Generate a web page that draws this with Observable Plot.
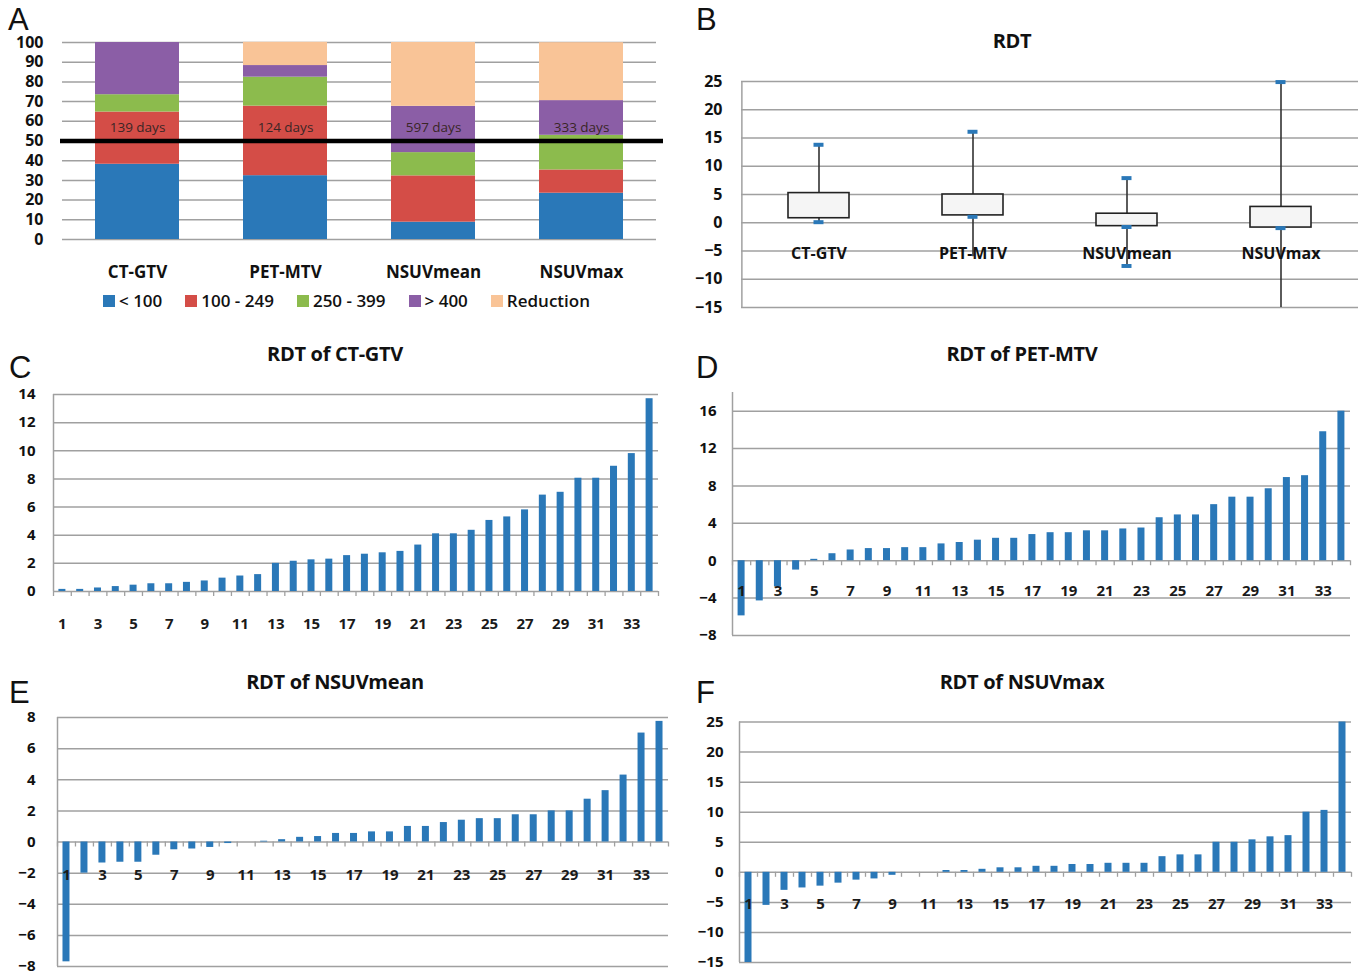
<!DOCTYPE html>
<html><head><meta charset="utf-8">
<script src="https://cdn.jsdelivr.net/npm/d3@7"></script>
<script src="https://cdn.jsdelivr.net/npm/@observablehq/plot@0.6"></script>
<style>
body{margin:0;background:#fff;}
#root{position:relative;width:1360px;height:977px;overflow:hidden;font-family:"Open Sans",sans-serif;color:#111;}
#root svg{position:absolute;overflow:visible;}
.letter{position:absolute;font-family:"Liberation Sans",Arial,sans-serif;font-size:31px;line-height:18px;height:18px;color:#111;}
.title{position:absolute;font-family:"Open Sans",sans-serif;font-weight:700;font-size:20px;line-height:1;transform:translate(-50%,-50%);white-space:nowrap;color:#111;letter-spacing:-0.3px;}
.legend{position:absolute;left:103px;top:291px;display:flex;font-size:17px;font-weight:600;line-height:20px;white-space:nowrap;}
.legend .item{display:flex;align-items:center;margin-right:23px;}
.legend .sw{width:12px;height:12px;margin-right:4px;}
</style></head><body><div id="root"></div>
<script>
// ---------- Panel A data (percent of patients) ----------
const stackCategories = ["CT-GTV", "PET-MTV", "NSUVmean", "NSUVmax"];
const rdtGroups = ["< 100", "100 - 249", "250 - 399", "> 400", "Reduction"];
const groupColors = ["#2a78b8", "#d44d47", "#8cbb4d", "#8b5ea6", "#f9c497"];
const pctLt100 = [38.2, 32.4, 8.8, 23.5];
const pct100to249 = [26.5, 35.3, 23.5, 11.8];
const pct250to399 = [8.8, 14.7, 11.8, 17.6];
const pctGt400 = [26.5, 5.9, 23.5, 17.6];
const pctReduction = [0, 11.8, 32.4, 29.4];
const medianDays = ["139 days", "124 days", "597 days", "333 days"];
const aTicks = [0, 10, 20, 30, 40, 50, 60, 70, 80, 90, 100];

// ---------- Panel B data (box plot of RDT) ----------
const boxMin = [0.1, -6.0, -7.7, -15];
const boxQ1 = [0.8, 1.3, -0.6, -0.85];
const boxQ3 = [5.25, 5.0, 1.6, 2.8];
const boxMax = [13.8, 16.1, 7.9, 24.9];
const capCategories = ["CT-GTV", "CT-GTV", "PET-MTV", "PET-MTV", "NSUVmean", "NSUVmean", "NSUVmean", "NSUVmax", "NSUVmax"];
const capValues = [13.8, 0.1, 16.1, 1.05, 7.9, -0.75, -7.65, 24.9, -0.95];
const bTicks = [-15, -10, -5, 0, 5, 10, 15, 20, 25];

// ---------- Panels C-F data (RDT per patient, sorted) ----------
const rdtCTGTV = [0.15, 0.15, 0.25, 0.35, 0.45, 0.55, 0.55, 0.65, 0.75, 0.95, 1.1, 1.2, 2.0, 2.15, 2.25, 2.3, 2.55, 2.65, 2.75, 2.85, 3.3, 4.1, 4.1, 4.35, 5.05, 5.3, 5.8, 6.85, 7.05, 8.05, 8.05, 8.9, 9.8, 13.7];
const rdtPETMTV = [-5.9, -4.3, -2.8, -1.0, 0.15, 0.75, 1.15, 1.3, 1.3, 1.4, 1.4, 1.8, 1.95, 2.2, 2.4, 2.4, 2.8, 3.0, 3.0, 3.2, 3.2, 3.4, 3.5, 4.6, 4.9, 4.9, 6.0, 6.8, 6.8, 7.7, 8.9, 9.1, 13.8, 16.0];
const rdtNSUVmean = [-7.7, -2.0, -1.35, -1.3, -1.3, -0.85, -0.5, -0.45, -0.35, -0.1, 0, 0.05, 0.15, 0.3, 0.35, 0.55, 0.55, 0.65, 0.65, 1.0, 1.0, 1.25, 1.4, 1.5, 1.5, 1.75, 1.75, 2.0, 2.0, 2.75, 3.3, 4.3, 7.0, 7.75];
const rdtNSUVmax = [-15, -5.5, -3.0, -2.6, -2.3, -1.8, -1.3, -1.1, -0.5, 0, 0, 0.3, 0.3, 0.5, 0.75, 0.75, 1.0, 1.0, 1.3, 1.3, 1.5, 1.5, 1.5, 2.6, 2.9, 2.9, 5.0, 5.0, 5.4, 5.9, 6.1, 10.0, 10.3, 25];
const cTicks = [0, 2, 4, 6, 8, 10, 12, 14];
const dTicks = [-8, -4, 0, 4, 8, 12, 16];
const eTicks = [-8, -6, -4, -2, 0, 2, 4, 6, 8];
const fTicks = [-15, -10, -5, 0, 5, 10, 15, 20, 25];
const patientLabels = d3.range(1, 35, 2);

const root = document.getElementById("root");
const GRID = "#a0a0a0";
const BAR = "#2a78b8";

function place(svg, left, top) {
  svg.style.left = left + "px";
  svg.style.top = top + "px";
  root.appendChild(svg);
}
function addText(cls, text, x, y) {
  const d = document.createElement("div");
  d.className = cls;
  d.textContent = text;
  d.style.left = x + "px";
  d.style.top = y + "px";
  root.appendChild(d);
}

// ---------- Panel A ----------
const stackData = [];
const groupArrays = [pctLt100, pct100to249, pct250to399, pctGt400, pctReduction];
stackCategories.forEach((c, j) => {
  groupArrays.forEach((arr, k) => stackData.push({cat: c, group: rdtGroups[k], value: arr[j]}));
});
const plotA = Plot.plot({
  width: 680, height: 290,
  marginLeft: 62, marginRight: 24, marginTop: 42, marginBottom: 51,
  x: {domain: stackCategories, paddingInner: 0.434, paddingOuter: 0.217},
  y: {domain: [0, 100]},
  color: {domain: rdtGroups, range: groupColors},
  style: {fontFamily: "Open Sans", fontSize: "16px", fontWeight: 700, color: "#111", background: "transparent"},
  marks: [
    Plot.ruleY(aTicks, {stroke: GRID, strokeWidth: 1.5}),
    Plot.barY(stackData, {x: "cat", y: "value", fill: "group"}),
    Plot.ruleY([50], {stroke: "#000", strokeWidth: 4.5, insetLeft: -2, insetRight: -7}),
    Plot.text(stackCategories, {x: d => d, text: medianDays, frameAnchor: "top", dy: 80, fontSize: 13.5, fontWeight: 400, fill: "#3a2626"}),
    Plot.axisY(aTicks, {tickSize: 0, tickPadding: 19, label: null}),
    Plot.axisX({tickSize: 0, tickPadding: 26, fontSize: 17, label: null})
  ]
});
place(plotA, 0, 0);

const legend = document.createElement("div");
legend.className = "legend";
rdtGroups.forEach((g, k) => {
  const it = document.createElement("div");
  it.className = "item";
  const sw = document.createElement("div");
  sw.className = "sw";
  sw.style.background = groupColors[k];
  const t = document.createElement("span");
  t.textContent = g;
  it.appendChild(sw); it.appendChild(t);
  legend.appendChild(it);
});
root.appendChild(legend);

// ---------- Panel B ----------
const boxData = stackCategories.map((c, i) => ({cat: c, min: boxMin[i], q1: boxQ1[i], q3: boxQ3[i], max: boxMax[i]}));
const capData = capCategories.map((c, i) => ({cat: c, v: capValues[i]}));
const bStep = (680 - 61 - 2) / 4;
const plotB = Plot.plot({
  width: 680, height: 260,
  marginLeft: 61, marginRight: 2, marginTop: 21, marginBottom: 13,
  x: {domain: stackCategories, paddingInner: 0.606, paddingOuter: 0.303},
  y: {domain: [-15, 25]},
  style: {fontFamily: "Open Sans", fontSize: "16px", fontWeight: 700, color: "#111", background: "transparent"},
  marks: [
    Plot.ruleY(bTicks, {stroke: GRID, strokeWidth: 1.5}),
    Plot.ruleX([stackCategories[0]], {dx: -bStep / 2, stroke: GRID, strokeWidth: 1.5}),
    Plot.ruleX(boxData, {x: "cat", y1: "min", y2: "max", stroke: "#333", strokeWidth: 1.6}),
    Plot.barY(boxData, {x: "cat", y1: "q1", y2: "q3", fill: "#f5f5f5", stroke: "#222", strokeWidth: 1.6}),
    Plot.tickY(capData, {x: "cat", y: "v", stroke: BAR, strokeWidth: 4, insetLeft: 25.5, insetRight: 25.5}),
    Plot.axisY(bTicks, {tickSize: 0, tickPadding: 19, label: null}),
    Plot.axisX({tickSize: 0, tickPadding: 0, dy: -60, fontSize: 16, label: null})
  ]
});
place(plotB, 680, 60);

// ---------- Panels C-F ----------
function rdtBars(values, yDomain, yTicks, cfg) {
  const {width, height, mt, mb, ml, mr, yPad, xPad} = cfg;
  const data = values.map((v, i) => ({i: i + 1, v}));
  const innerH = height - mt - mb;
  const zeroPx = mt + innerH * (yDomain[1] - 0) / (yDomain[1] - yDomain[0]);
  const dyAxis = zeroPx - (height - mb);
  const step = (width - ml - mr) / values.length;
  const inset = (step - 7) / 2;
  const bounds = d3.range(0.5, values.length + 1, 1);
  return Plot.plot({
    width, height, marginTop: mt, marginBottom: mb, marginLeft: ml, marginRight: mr,
    x: {domain: [0.5, values.length + 0.5]},
    y: {domain: yDomain},
    style: {fontFamily: "Open Sans", fontSize: "15px", fontWeight: 700, color: "#111", background: "transparent"},
    marks: [
      Plot.ruleY(yTicks, {stroke: GRID, strokeWidth: 1.5}),
      Plot.ruleX([0.5], {stroke: GRID, strokeWidth: 1.5}),
      Plot.rectY(data, {x1: d => d.i - 0.5, x2: d => d.i + 0.5, y1: 0, y2: "v", fill: BAR, insetLeft: inset, insetRight: inset}),
      Plot.axisY(yTicks, {tickSize: 0, tickPadding: yPad, label: null}),
      Plot.axisX(bounds, {tickSize: 5, tickFormat: () => "", stroke: GRID, strokeWidth: 1.3, dy: dyAxis, label: null}),
      Plot.axisX(patientLabels, {tickSize: 0, tickPadding: xPad, dy: dyAxis, fill: "#1a1a1a", label: null})
    ]
  });
}
place(rdtBars(rdtCTGTV, [0, 14], cTicks, {width: 680, height: 260, mt: 14, mb: 49, ml: 53, mr: 22, yPad: 18, xPad: 27}), 0, 380);
place(rdtBars(rdtPETMTV, [-8, 18], dTicks, {width: 680, height: 270, mt: 12, mb: 15, ml: 52, mr: 10, yPad: 16, xPad: 25}), 680, 380);
place(rdtBars(rdtNSUVmean, [-8, 8], eTicks, {width: 680, height: 277, mt: 17, mb: 11, ml: 57, mr: 12, yPad: 22, xPad: 27}), 0, 700);
place(rdtBars(rdtNSUVmax, [-15, 25], fTicks, {width: 680, height: 277, mt: 21.5, mb: 15, ml: 59, mr: 9, yPad: 16, xPad: 26}), 680, 700);

// ---------- Titles and panel letters ----------
addText("title", "RDT", 1012, 41);
addText("title", "RDT of CT-GTV", 335, 354);
addText("title", "RDT of PET-MTV", 1022, 354);
addText("title", "RDT of NSUVmean", 335, 682);
addText("title", "RDT of NSUVmax", 1022, 682);
addText("letter", "A", 8, 10.5);
addText("letter", "B", 696, 10.5);
addText("letter", "C", 9, 358.5);
addText("letter", "D", 696, 358.5);
addText("letter", "E", 9, 683.5);
addText("letter", "F", 696, 683.5);
</script></body></html>
